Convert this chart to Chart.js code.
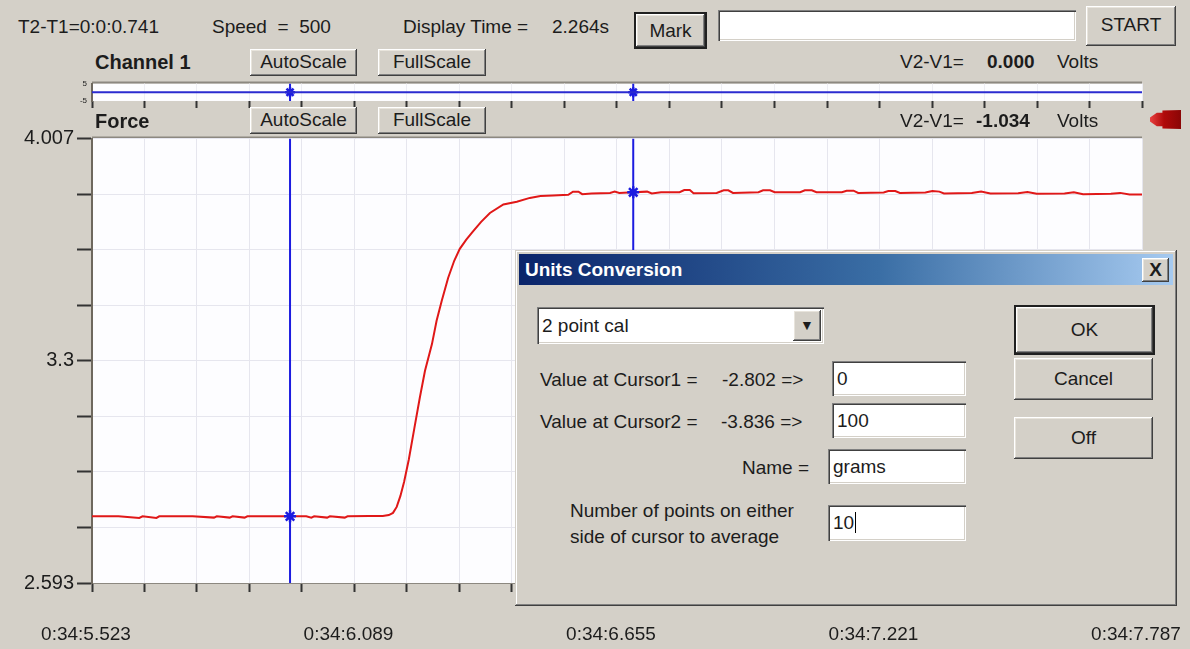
<!DOCTYPE html>
<html>
<head>
<meta charset="utf-8">
<script src="https://cdn.jsdelivr.net/npm/chart.js@4.4.1/dist/chart.umd.min.js"></script>
<style>
body{margin:0;width:1190px;height:649px;background:#d4d0c8;font-family:"Liberation Sans",Arial,sans-serif;font-size:19px;color:#1c1c1c;position:relative;overflow:hidden}
.t{position:absolute;white-space:nowrap;line-height:22px}
.b{font-weight:bold}
.btn{position:absolute;background:#d4d0c8;box-sizing:border-box;text-align:center;box-shadow:inset -1px -1px #404040,inset 1px 1px #fff,inset -2px -2px #808080,inset 2px 2px #e8e4dc}
.def{outline:2px solid #202020}
.fld{position:absolute;background:#fff;box-sizing:border-box;padding-left:5px;box-shadow:inset 1px 1px #808080,inset 2px 2px #404040,inset -1px -1px #fff,inset -2px -2px #d4d0c8}
canvas{position:absolute;left:0}
#dlg{position:absolute;left:515px;top:250px;width:662px;height:356px;background:#d4d0c8;box-sizing:border-box;box-shadow:inset -1px -1px #404040,inset 1px 1px #d4d0c8,inset -2px -2px #808080,inset 2px 2px #fff}
</style>
</head>
<body>
<div class="t" style="left:18px;top:16px">T2-T1=0:0:0.741</div>
<div class="t" style="left:212px;top:16px">Speed &nbsp;= &nbsp;500</div>
<div class="t" style="left:403px;top:16px">Display Time =</div>
<div class="t" style="left:552px;top:16px">2.264s</div>
<div class="btn def" style="left:636px;top:14px;width:69px;height:33px;line-height:33px">Mark</div>
<div class="fld" style="left:718px;top:10px;width:358px;height:31px"></div>
<div class="btn" style="left:1086px;top:6px;width:90px;height:40px;line-height:38px">START</div>

<div class="t b" style="left:95px;top:51px;font-size:20px">Channel 1</div>
<div class="btn" style="left:250px;top:49px;width:107px;height:27px;line-height:26px">AutoScale</div>
<div class="btn" style="left:378px;top:49px;width:108px;height:27px;line-height:26px">FullScale</div>
<div class="t" style="left:900px;top:51px">V2-V1=</div>
<div class="t b" style="left:987px;top:51px">0.000</div>
<div class="t" style="left:1057px;top:51px">Volts</div>

<canvas id="strip" width="1190" height="36" style="top:76px"></canvas>

<div class="t b" style="left:95px;top:110px;font-size:20px">Force</div>
<div class="btn" style="left:250px;top:107px;width:107px;height:27px;line-height:26px">AutoScale</div>
<div class="btn" style="left:378px;top:107px;width:108px;height:27px;line-height:26px">FullScale</div>
<div class="t" style="left:900px;top:110px">V2-V1=</div>
<div class="t b" style="left:976px;top:110px">-1.034</div>
<div class="t" style="left:1057px;top:110px">Volts</div>
<div style="position:absolute;left:1150px;top:110px;width:31px;height:19px;background:linear-gradient(90deg,#e84040,#b00a0a 45%,#8a0606);clip-path:polygon(0 40%,22% 15%,40% 15%,40% 3%,100% 0,100% 100%,40% 97%,40% 85%,22% 85%,0 60%)"></div>

<canvas id="force" width="1190" height="519" style="top:130px"></canvas>

<div id="dlg">
  <div style="position:absolute;left:4px;top:4px;width:654px;height:31px;background:linear-gradient(90deg,#0a246a,#3a6ea5 55%,#a6caf0)"></div>
  <div class="t b" style="left:10px;top:9px;color:#fff">Units Conversion</div>
  <div class="btn" style="left:627px;top:8px;width:27px;height:24px;line-height:24px;font-weight:bold;font-size:19px">X</div>

  <div class="fld" style="left:22px;top:57px;width:287px;height:37px;line-height:37px">2 point cal</div>
  <div class="btn" style="left:278px;top:60px;width:28px;height:31px;line-height:31px;font-size:14px">&#9660;</div>

  <div class="t" style="left:25px;top:119px">Value at Cursor1 =</div>
  <div class="t" style="left:207px;top:119px">-2.802 =&gt;</div>
  <div class="fld" style="left:317px;top:111px;width:134px;height:35px;line-height:35px">0</div>

  <div class="t" style="left:25px;top:161px">Value at Cursor2 =</div>
  <div class="t" style="left:206px;top:161px">-3.836 =&gt;</div>
  <div class="fld" style="left:317px;top:153px;width:134px;height:35px;line-height:35px">100</div>

  <div class="t" style="left:227px;top:207px">Name =</div>
  <div class="fld" style="left:313px;top:199px;width:138px;height:35px;line-height:35px">grams</div>

  <div class="t" style="left:55px;top:250px">Number of points on either</div>
  <div class="t" style="left:55px;top:276px">side of cursor to average</div>
  <div class="fld" style="left:313px;top:255px;width:138px;height:36px;line-height:36px">10<span style="border-left:1px solid #000;margin-left:1px"></span></div>

  <div class="btn def" style="left:501px;top:57px;width:137px;height:46px;line-height:46px">OK</div>
  <div class="btn" style="left:499px;top:108px;width:139px;height:42px;line-height:42px">Cancel</div>
  <div class="btn" style="left:499px;top:167px;width:139px;height:42px;line-height:42px">Off</div>
</div>

<script>
// time axis (seconds past 0:34) and labels
const tMin = 5.523;
const tMax = 7.787;
const xLabels = ['0:34:5.523', '0:34:6.089', '0:34:6.655', '0:34:7.221', '0:34:7.787'];
const yMin = 2.593;
const yMax = 4.007;
const yLabels = ['2.593', '3.3', '4.007'];

// Force trace
const forceT = [5.523,5.580,5.625,5.632,5.662,5.668,5.740,5.786,5.792,5.820,5.826,5.852,5.858,5.900,5.950,5.985,5.996,6.002,6.030,6.036,6.068,6.074,6.120,6.150,6.163,6.172,6.180,6.188,6.196,6.206,6.218,6.230,6.241,6.256,6.266,6.277,6.291,6.304,6.316,6.330,6.345,6.362,6.381,6.410,6.439,6.467,6.490,6.517,6.550,6.560,6.572,6.580,6.600,6.640,6.650,6.660,6.690,6.720,6.730,6.750,6.790,6.800,6.812,6.820,6.870,6.885,6.895,6.905,6.960,6.970,6.985,6.995,7.050,7.060,7.075,7.085,7.140,7.150,7.165,7.175,7.230,7.240,7.255,7.265,7.320,7.335,7.350,7.360,7.420,7.440,7.460,7.520,7.540,7.560,7.620,7.640,7.660,7.720,7.740,7.760,7.787];
const forceV = [2.805,2.805,2.800,2.805,2.800,2.805,2.805,2.801,2.805,2.801,2.805,2.801,2.805,2.805,2.805,2.805,2.801,2.805,2.801,2.805,2.801,2.805,2.806,2.806,2.809,2.816,2.835,2.870,2.915,2.985,3.085,3.184,3.268,3.353,3.427,3.490,3.564,3.618,3.656,3.685,3.712,3.742,3.770,3.797,3.806,3.818,3.824,3.826,3.828,3.838,3.838,3.830,3.832,3.834,3.838,3.834,3.836,3.838,3.832,3.836,3.836,3.843,3.843,3.833,3.834,3.842,3.842,3.834,3.836,3.842,3.842,3.836,3.836,3.842,3.842,3.836,3.836,3.841,3.841,3.834,3.835,3.840,3.840,3.834,3.835,3.840,3.838,3.832,3.834,3.838,3.832,3.833,3.837,3.831,3.832,3.836,3.830,3.831,3.834,3.829,3.829];

// Channel 1 (flat)
const ch1T = [5.523, 7.787];
const ch1V = [0, 0];

// cursors
const cursorT = [5.950, 6.690];
const cursorV = [2.805, 3.836];
const cursorCh1 = [0, 0];

const blue = '#1c1ce0';
const red = '#e01818';

function xTicks(scale) {
  const out = [];
  for (let i = 0; i <= 20; i++) out.push({value: tMin + (tMax - tMin) * i / 20});
  scale.ticks = out;
}

const panel = {
  id: 'panel',
  beforeDraw(chart) {
    const a = chart.chartArea, c = chart.ctx;
    c.save();
    c.fillStyle = '#fdfdff';
    c.fillRect(a.left, a.top, a.right - a.left, a.bottom - a.top);
    c.strokeStyle = '#8c8880';
    c.lineWidth = 2;
    c.beginPath();
    c.moveTo(a.left, a.top - 1);
    c.lineTo(a.right, a.top - 1);
    c.stroke();
    c.restore();
  }
};

new Chart(document.getElementById('force'), {
  type: 'line',
  data: {
    datasets: [
      {
        data: forceT.map((t, i) => ({x: t, y: forceV[i]})),
        borderColor: red, borderWidth: 2, pointRadius: 0, order: 2
      },
      {
        data: [{x: cursorT[0], y: yMin}, {x: cursorT[0], y: yMax}],
        borderColor: blue, borderWidth: 2, pointRadius: 0, order: 1
      },
      {
        data: [{x: cursorT[1], y: yMin}, {x: cursorT[1], y: yMax}],
        borderColor: blue, borderWidth: 2, pointRadius: 0, order: 1
      },
      {
        data: cursorT.map((t, i) => ({x: t, y: cursorV[i]})),
        showLine: false, pointStyle: 'star', pointRadius: 6,
        borderColor: blue, borderWidth: 2.5, order: 0
      }
    ]
  },
  options: {
    responsive: false,
    animation: false,
    devicePixelRatio: 1,
    layout: {padding: {left: 0, right: 48, top: 7, bottom: 0}},
    plugins: {legend: {display: false}, tooltip: {enabled: false}},
    scales: {
      x: {
        type: 'linear', min: tMin, max: tMax,
        afterBuildTicks: xTicks,
        afterFit(scale) { scale.height = 66; scale.paddingLeft = 0; scale.paddingRight = 0; },
        grid: {color: '#e6e6ee', tickLength: 9, tickColor: '#333', tickWidth: 2},
        border: {color: '#8c8880', width: 1},
        ticks: {
          autoSkip: false, maxRotation: 0, padding: 31, labelOffset: -6,
          color: '#1c1c1c', font: {family: 'Liberation Sans', size: 19},
          callback: (v, i) => i % 5 === 0 ? xLabels[i / 5] : ''
        }
      },
      y: {
        min: yMin, max: yMax,
        afterBuildTicks(scale) {
          const out = [];
          for (let i = 0; i <= 8; i++) out.push({value: yMin + (yMax - yMin) * i / 8});
          scale.ticks = out;
        },
        afterFit(scale) { scale.width = 92; scale.paddingTop = 0; scale.paddingBottom = 0; },
        grid: {color: '#e6e6ee', tickLength: 15, tickColor: '#333', tickWidth: 2},
        border: {color: '#6e685e', width: 2},
        ticks: {
          padding: 3, color: '#1c1c1c', font: {family: 'Liberation Sans', size: 20},
          callback: (v, i) => i % 4 === 0 ? yLabels[i / 4] : ''
        }
      }
    }
  },
  plugins: [panel]
});

new Chart(document.getElementById('strip'), {
  type: 'line',
  data: {
    datasets: [
      {
        data: ch1T.map((t, i) => ({x: t, y: ch1V[i]})),
        borderColor: '#2a2ad0', borderWidth: 2, pointRadius: 0
      },
      {
        data: [{x: cursorT[0], y: -5}, {x: cursorT[0], y: 5}],
        borderColor: blue, borderWidth: 2, pointRadius: 0
      },
      {
        data: [{x: cursorT[1], y: -5}, {x: cursorT[1], y: 5}],
        borderColor: blue, borderWidth: 2, pointRadius: 0
      },
      {
        data: cursorT.map((t, i) => ({x: t, y: cursorCh1[i]})),
        showLine: false, pointStyle: 'star', pointRadius: 5,
        borderColor: blue, borderWidth: 2.5
      }
    ]
  },
  options: {
    responsive: false,
    animation: false,
    devicePixelRatio: 1,
    layout: {padding: {left: 0, right: 48, top: 4, bottom: 0}},
    plugins: {legend: {display: false}, tooltip: {enabled: false}},
    scales: {
      x: {
        type: 'linear', min: tMin, max: tMax,
        afterBuildTicks: xTicks,
        afterFit(scale) { scale.height = 11; scale.paddingLeft = 0; scale.paddingRight = 0; },
        grid: {color: '#eeeef4', tickLength: 7, tickColor: '#333', tickWidth: 2},
        border: {display: false},
        ticks: {autoSkip: false, maxRotation: 0, padding: 0, font: {size: 1}, callback: () => ''}
      },
      y: {
        min: -5, max: 5,
        afterBuildTicks(scale) { scale.ticks = [{value: -5}, {value: 0}, {value: 5}]; },
        afterFit(scale) { scale.width = 92; scale.paddingTop = 0; scale.paddingBottom = 0; },
        grid: {display: false, tickLength: 4, tickColor: '#333'},
        border: {color: '#6e685e', width: 2},
        ticks: {padding: 1, color: '#1c1c1c', font: {family: 'Liberation Sans', size: 8}}
      }
    }
  },
  plugins: [panel]
});
</script>
</body>
</html>
